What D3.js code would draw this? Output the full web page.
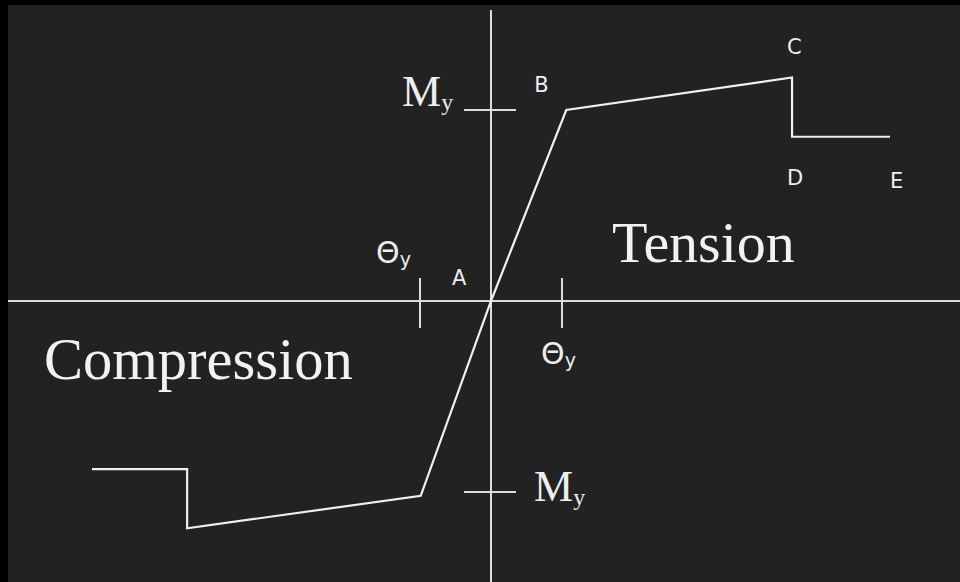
<!DOCTYPE html>
<html>
<head>
<meta charset="utf-8">
<script src="https://cdn.jsdelivr.net/npm/d3@7"></script>
<style>
  html, body { margin: 0; padding: 0; background: #000; }
  svg { display: block; }
</style>
</head>
<body>
<div id="main"></div>
<script>
// rotation in units of theta_y, moment in units of M_y
const thetaPos = [0, 1.06, 4.24, 4.24, 5.62];
const momentPos = [0, 1.0, 1.17, 0.86, 0.86];
const thetaNeg = [0, -0.99, -4.28, -4.28, -5.62];
const momentNeg = [0, -1.02, -1.19, -0.88, -0.88];
const pointNames = ["A", "B", "C", "D", "E"];
const thetaTicks = [-1, 1];
const momentTicks = [1, -1];

const width = 960, height = 582;
const ox = 491, oy = 301;

const x = d3.scaleLinear().domain([-1, 1]).range([ox - 71, ox + 71]);
const y = d3.scaleLinear().domain([-1, 1]).range([oy + 191, oy - 191]);

const svg = d3.select('#main').append('svg')
    .attr('width', width).attr('height', height);

svg.append('rect').attr('width', width).attr('height', height).attr('fill', '#000');
svg.append('rect').attr('x', 8).attr('y', 5)
    .attr('width', width - 8).attr('height', height - 5).attr('fill', '#222');

// axes
const axisColor = '#dcdcdc';
svg.append('line').attr('x1', 8).attr('x2', width).attr('y1', y(0)).attr('y2', y(0))
    .attr('stroke', axisColor).attr('stroke-width', 2);
svg.append('line').attr('x1', x(0)).attr('x2', x(0)).attr('y1', 10).attr('y2', height)
    .attr('stroke', axisColor).attr('stroke-width', 2);

// tick marks
svg.selectAll('.mtick').data(momentTicks).enter().append('line')
    .attr('x1', x(0) - 27).attr('x2', x(0) + 25)
    .attr('y1', d => y(d)).attr('y2', d => y(d))
    .attr('stroke', axisColor).attr('stroke-width', 2);
svg.selectAll('.ttick').data(thetaTicks).enter().append('line')
    .attr('x1', d => x(d)).attr('x2', d => x(d))
    .attr('y1', y(0) - 23).attr('y2', y(0) + 27)
    .attr('stroke', axisColor).attr('stroke-width', 2);

// backbone curve
const line = d3.line().x(d => x(d[0])).y(d => y(d[1]));
const pos = thetaPos.map((t, i) => [t, momentPos[i]]);
const neg = thetaNeg.map((t, i) => [t, momentNeg[i]]);
const curve = neg.slice().reverse().concat(pos.slice(1));
svg.append('path').attr('d', line(curve))
    .attr('fill', 'none').attr('stroke', '#f0f0f0').attr('stroke-width', 2.2)
    .attr('stroke-linejoin', 'miter');

// point labels
const labelOff = [[-39, -16], [-32, -18], [-5, -24], [-5, 48], [0, 51]];
svg.selectAll('.pt').data(pointNames).enter().append('text')
    .attr('x', (d, i) => x(thetaPos[i]) + labelOff[i][0])
    .attr('y', (d, i) => y(momentPos[i]) + labelOff[i][1])
    .attr('font-family', 'DejaVu Sans, sans-serif').attr('font-size', 21)
    .attr('fill', '#eee').text(d => d);

// My labels
const serif = 'Liberation Serif, Times New Roman, serif';
function myLabel(px, py) {
  const t = svg.append('text').attr('x', px).attr('y', py)
      .attr('font-family', serif).attr('font-size', 44).attr('fill', '#eee');
  t.append('tspan').text('M');
  t.append('tspan').attr('font-size', 24).attr('dy', 4).text('y');
}
myLabel(x(0) - 89, y(momentTicks[0]) - 4);
myLabel(x(0) + 43, y(momentTicks[1]) + 9);

function thetaLabel(px, py) {
  const t = svg.append('text').attr('x', px).attr('y', py)
      .attr('font-family', 'DejaVu Sans, sans-serif').attr('font-size', 30).attr('fill', '#eee');
  t.append('tspan').text('\u0398');
  t.append('tspan').attr('font-size', 19).attr('dy', 3).text('y');
}
thetaLabel(x(thetaTicks[0]) - 44, y(0) - 38);
thetaLabel(x(thetaTicks[1]) - 21, y(0) + 63);

// region labels
svg.append('text').attr('x', 612).attr('y', 262)
    .attr('font-family', serif).attr('font-size', 58).attr('fill', '#f2f2f2').text('Tension');
svg.append('text').attr('x', 44).attr('y', 379)
    .attr('font-family', serif).attr('font-size', 58.5).attr('fill', '#f2f2f2').text('Compression');
</script>
</body>
</html>
